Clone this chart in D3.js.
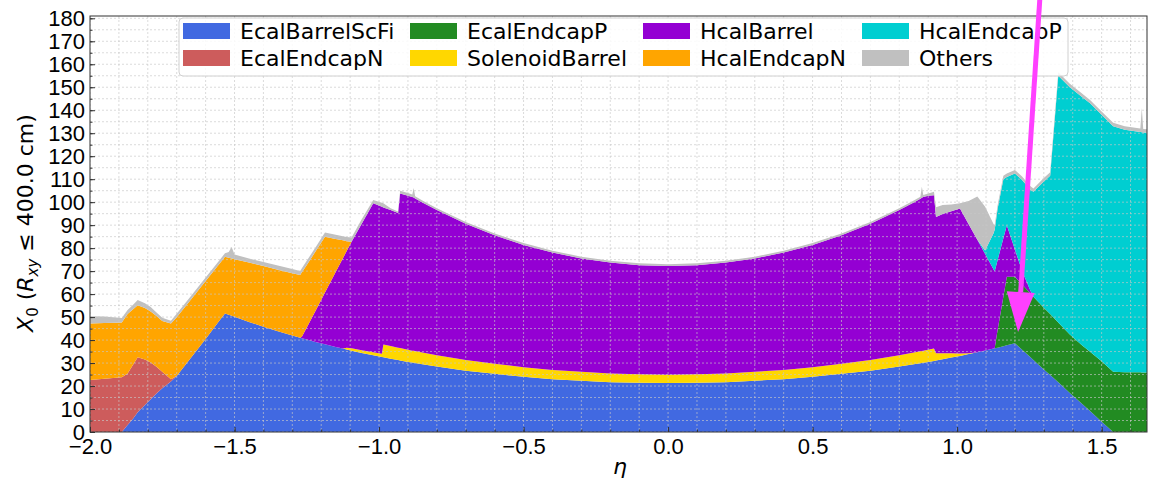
<!DOCTYPE html>
<html>
<head>
<meta charset="utf-8">
<title>X0 vs eta</title>
<script src="https://d3js.org/d3.v7.min.js"></script>
<style>
  body { margin: 0; background: #fff; }
  svg { font-family: "DejaVu Sans", sans-serif; }
  .axis text { font-size: 22px; fill: #000; }
  .axis path, .axis line { stroke: #333; }
</style>
</head>
<body>
<script>
// eta grid shared by all series
const eta = [-2.00, -1.95, -1.91, -1.89, -1.87, -1.85, -1.835, -1.81, -1.79, -1.77,
  -1.75, -1.72, -1.70, -1.65, -1.60, -1.55, -1.533, -1.52, -1.51, -1.50,
  -1.45, -1.40, -1.35, -1.30, -1.273, -1.267, -1.25, -1.22, -1.187, -1.15,
  -1.125, -1.112, -1.095, -1.06, -1.02, -0.99, -0.985, -0.96, -0.934, -0.927,
  -0.90, -0.885, -0.88, -0.875, -0.85, -0.80, -0.70, -0.60, -0.50, -0.40,
  -0.30, -0.20, -0.10, 0.00, 0.10, 0.20, 0.30, 0.40, 0.50, 0.60,
  0.70, 0.80, 0.85, 0.873, 0.878, 0.883, 0.90, 0.92, 0.927, 0.95,
  0.98, 1.01, 1.04, 1.07, 1.097, 1.126, 1.13, 1.14, 1.16, 1.172,
  1.20, 1.224, 1.253, 1.264, 1.30, 1.322, 1.35, 1.39, 1.43, 1.46,
  1.50, 1.54, 1.58, 1.634, 1.639, 1.644, 1.70];

const EcalBarrelScFi = [0, 0, 0, 0, 3.0, 6.0, 8.6, 11.8, 14.3, 16.8,
  19.0, 22.0, 24.4, 32.4, 40.5, 48.8, 51.6, 51.0, 50.6, 50.1,
  47.9, 45.8, 43.8, 42.0, 41.0, 40.8, 40.2, 39.2, 38.2, 37.0,
  36.3, 35.9, 35.4, 34.4, 33.4, 32.6, 32.5, 31.9, 31.3, 31.1,
  30.5, 30.2, 30.1, 30.0, 29.5, 28.5, 26.7, 25.3, 24.0, 23.0,
  22.3, 21.7, 21.4, 21.3, 21.4, 21.7, 22.3, 23.0, 24.0, 25.3,
  26.7, 28.5, 29.5, 29.9, 30.0, 30.1, 30.5, 30.9, 31.1, 31.7,
  32.4, 33.1, 33.9, 34.7, 35.5, 36.3, 36.4, 36.7, 37.3, 37.7,
  38.6, 35.9, 32.6, 31.3, 27.2, 24.8, 21.6, 17.0, 12.5, 9.1,
  4.5, 0, 0, 0, 0, 0, 0];

const EcalEndcapN = [22.6, 23.2, 23.6, 23.8, 22.5, 23.5, 23.9, 19.7, 15.9, 11.6,
  7.2, 1.0, 0, 0, 0, 0, 0, 0, 0, 0,
  0, 0, 0, 0, 0, 0, 0, 0, 0, 0,
  0, 0, 0, 0, 0, 0, 0, 0, 0, 0,
  0, 0, 0, 0, 0, 0, 0, 0, 0, 0,
  0, 0, 0, 0, 0, 0, 0, 0, 0, 0,
  0, 0, 0, 0, 0, 0, 0, 0, 0, 0,
  0, 0, 0, 0, 0, 0, 0, 0, 0, 0,
  0, 0, 0, 0, 0, 0, 0, 0, 0, 0,
  0, 0, 0, 0, 0, 0, 0];

const EcalEndcapP = [0, 0, 0, 0, 0, 0, 0, 0, 0, 0,
  0, 0, 0, 0, 0, 0, 0, 0, 0, 0,
  0, 0, 0, 0, 0, 0, 0, 0, 0, 0,
  0, 0, 0, 0, 0, 0, 0, 0, 0, 0,
  0, 0, 0, 0, 0, 0, 0, 0, 0, 0,
  0, 0, 0, 0, 0, 0, 0, 0, 0, 0,
  0, 0, 0, 0, 0, 0, 0, 0, 0, 0,
  0, 0, 0, 0, 0, 0, 0, 7.6, 21.5, 29.8,
  28.9, 28.4, 27.8, 27.5, 26.9, 26.5, 26.0, 25.4, 25.5, 25.8,
  26.3, 26.2, 26.0, 26.0, 25.9, 25.9, 25.8];

const SolenoidBarrel = [0, 0, 0, 0, 0, 0, 0, 0, 0, 0,
  0, 0, 0, 0, 0, 0, 0, 0, 0, 0,
  0, 0, 0, 0, 0, 0, 0, 0, 0, 0,
  0, 0.8, 1.0, 1.2, 1.3, 1.5, 5.6, 5.5, 5.4, 5.4,
  5.3, 5.2, 5.2, 5.2, 5.1, 4.9, 4.6, 4.4, 4.2, 4.0,
  3.9, 3.8, 3.7, 3.6, 3.7, 3.8, 3.9, 4.0, 4.2, 4.4,
  4.6, 4.9, 5.1, 5.2, 5.2, 5.2, 5.3, 5.4, 3.2, 2.6,
  1.9, 1.1, 0.4, 0, 0, 0, 0, 0, 0, 0,
  0, 0, 0, 0, 0, 0, 0, 0, 0, 0,
  0, 0, 0, 0, 0, 0, 0];

const HcalBarrel = [0, 0, 0, 0, 0, 0, 0, 0, 0, 0,
  0, 0, 0, 0, 0, 0, 0, 0, 0, 0,
  0, 0, 0, 0, 0, 0.6, 5.3, 13.5, 22.5, 32.6,
  39.3, 42.0, 46.4, 55.0, 64.8, 63.9, 59.6, 59.2, 58.6, 67.3,
  67.0, 66.9, 66.7, 66.4, 65.3, 63.2, 59.3, 55.9, 53.2, 51.1,
  49.3, 48.2, 47.5, 47.3, 47.5, 48.2, 49.3, 51.1, 53.2, 55.9,
  59.3, 63.2, 65.3, 66.4, 66.7, 66.9, 67.0, 66.7, 59.3, 60.5,
  61.7, 63.0, 56.1, 48.9, 41.9, 34.5, 33.5, 30.4, 25.5, 22.5,
  11.9, 6.1, 1.3, 0, 0, 0, 0, 0, 0, 0,
  0, 0, 0, 0, 0, 0, 0];

const HcalEndcapN = [24.6, 24.2, 23.9, 23.8, 25.8, 24.0, 22.7, 22.5, 22.2, 22.1,
  22.1, 24.2, 25.5, 25.4, 25.2, 24.7, 24.6, 24.8, 24.9, 25.1,
  25.8, 26.4, 26.8, 27.1, 27.3, 28.1, 27.2, 25.8, 24.3, 14.4,
  7.8, 4.3, 0, 0, 0, 0, 0, 0, 0, 0,
  0, 0, 0, 0, 0, 0, 0, 0, 0, 0,
  0, 0, 0, 0, 0, 0, 0, 0, 0, 0,
  0, 0, 0, 0, 0, 0, 0, 0, 0, 0,
  0, 0, 0, 0, 0, 0, 0, 0, 0, 0,
  0, 0, 0, 0, 0, 0, 0, 0, 0, 0,
  0, 0, 0, 0, 0, 0, 0];

const HcalEndcapP = [0, 0, 0, 0, 0, 0, 0, 0, 0, 0,
  0, 0, 0, 0, 0, 0, 0, 0, 0, 0,
  0, 0, 0, 0, 0, 0, 0, 0, 0, 0,
  0, 0, 0, 0, 0, 0, 0, 0, 0, 0,
  0, 0, 0, 0, 0, 0, 0, 0, 0, 0,
  0, 0, 0, 0, 0, 0, 0, 0, 0, 0,
  0, 0, 0, 0, 0, 0, 0, 0, 0, 0,
  0, 0, 0, 0, 1.6, 15.7, 18.1, 22.3, 25.7, 21.0,
  33.1, 39.4, 43.8, 45.7, 54.9, 60.2, 107.4, 107.6, 108.0, 108.1,
  107.2, 106.8, 105.5, 104.5, 104.5, 104.4, 104.2];

const Others = [3.2, 2.8, 2.3, 2.0, 1.8, 2.0, 2.2, 2.0, 2.0, 1.5,
  1.4, 1.2, 1.5, 1.5, 1.5, 1.5, 1.6, 2.5, 5.0, 2.0,
  1.8, 1.8, 1.8, 1.8, 1.8, 1.8, 1.8, 1.8, 1.8, 1.8,
  1.8, 1.8, 1.8, 2.0, 1.4, 1.8, 1.8, 0.8, 0.6, 1.2,
  1.2, 1.0, 4.2, 1.0, 0.8, 0.8, 0.8, 0.8, 0.8, 0.8,
  0.8, 0.8, 0.8, 0.8, 0.8, 0.8, 0.8, 0.8, 0.8, 0.8,
  0.8, 0.8, 0.8, 0.9, 4.8, 0.9, 1.0, 1.5, 4.2, 4.0,
  3.0, 2.3, 10.1, 18.9, 19.0, 4.0, 2.0, 1.5, 1.5, 1.5,
  1.5, 1.5, 1.5, 1.5, 1.5, 1.5, 1.5, 1.5, 1.5, 1.5,
  1.5, 1.5, 1.5, 1.5, 10.6, 1.5, 1.5];

const names = ["EcalBarrelScFi", "EcalEndcapN", "EcalEndcapP", "SolenoidBarrel",
  "HcalBarrel", "HcalEndcapN", "HcalEndcapP", "Others"];
const values = [EcalBarrelScFi, EcalEndcapN, EcalEndcapP, SolenoidBarrel,
  HcalBarrel, HcalEndcapN, HcalEndcapP, Others];
const colors = ["#4169e1", "#cd5c5c", "#228b22", "#ffd700",
  "#9400d3", "#ffa500", "#00ced1", "#c0c0c0"];

const xTicks = [-2.0, -1.5, -1.0, -0.5, 0.0, 0.5, 1.0, 1.5];
const yTicks = [0, 10, 20, 30, 40, 50, 60, 70, 80, 90, 100, 110, 120, 130, 140, 150, 160, 170, 180];

// annotation arrow (data coords): tail above the frame, tip near eta 1.21
const arrowTail = [1.287, 190];
const arrowTip = [1.211, 43.5];

const W = 1149, H = 483;
const x = d3.scaleLinear().domain([-2.0, 1.657]).range([90, 1147]);
const y = d3.scaleLinear().domain([0, 181]).range([432, 16]);

const svg = d3.select("body").append("svg")
  .attr("width", W).attr("height", H);

svg.append("clipPath").attr("id", "plotclip")
  .append("rect").attr("x", 90).attr("y", 16).attr("width", 1057).attr("height", 416);

const rows = eta.map((e, i) => {
  const r = {eta: e};
  names.forEach((n, j) => r[n] = values[j][i]);
  return r;
});
const stacked = d3.stack().keys(names)(rows);

const area = d3.area()
  .x(d => x(d.data.eta))
  .y0(d => y(d[0]))
  .y1(d => y(d[1]));

const plot = svg.append("g").attr("clip-path", "url(#plotclip)");
plot.selectAll("path.layer").data(stacked).join("path")
  .attr("class", "layer")
  .attr("fill", (d, i) => colors[i])
  .attr("d", area);

// grid (minor every 0.1 / 5, dotted, drawn over the fills)
const grid = plot.append("g").attr("stroke", "rgba(200,200,200,0.65)")
  .attr("stroke-width", 1).attr("stroke-dasharray", "2,2");
grid.selectAll("line.gx").data(d3.range(-20, 17).map(k => k / 10)).join("line")
  .attr("x1", d => x(d)).attr("x2", d => x(d)).attr("y1", 16).attr("y2", 432);
grid.selectAll("line.gy").data(d3.range(0, 37).map(k => k * 5)).join("line")
  .attr("x1", 90).attr("x2", 1147).attr("y1", d => y(d)).attr("y2", d => y(d));

// axes with inward ticks
const xAxis = d3.axisBottom(x).tickValues(xTicks).tickFormat(d3.format(".1f"))
  .tickSizeInner(-5).tickSizeOuter(0).tickPadding(6);
const gx = svg.append("g").attr("class", "axis").attr("transform", "translate(0,432)").call(xAxis);
gx.select(".domain").remove();

const xMinor = d3.axisBottom(x).tickValues(d3.range(-20, 17).map(k => k / 10)).tickFormat("")
  .tickSizeInner(-2.5).tickSizeOuter(0);
svg.append("g").attr("class", "axis").attr("transform", "translate(0,432)").call(xMinor)
  .select(".domain").remove();

const yAxis = d3.axisLeft(y).tickValues(yTicks).tickFormat(d3.format("d"))
  .tickSizeInner(-5).tickSizeOuter(0).tickPadding(5);
const gy = svg.append("g").attr("class", "axis").attr("transform", "translate(90,0)").call(yAxis);
gy.select(".domain").remove();

const yMinor = d3.axisLeft(y).tickValues(d3.range(0, 37).map(k => k * 5)).tickFormat("")
  .tickSizeInner(-2.5).tickSizeOuter(0);
svg.append("g").attr("class", "axis").attr("transform", "translate(90,0)").call(yMinor)
  .select(".domain").remove();

// frame
svg.append("rect").attr("x", 90).attr("y", 16).attr("width", 1057).attr("height", 416)
  .attr("fill", "none").attr("stroke", "#333").attr("stroke-width", 1);

// axis labels
const yl = svg.append("text").attr("transform", "translate(33,223) rotate(-90)")
  .attr("text-anchor", "middle").attr("font-size", 22);
yl.append("tspan").attr("font-style", "italic").text("X");
yl.append("tspan").attr("font-size", 15).attr("dy", 5).text("0");
yl.append("tspan").attr("dy", -5).text(" (");
yl.append("tspan").attr("font-style", "italic").text("R");
yl.append("tspan").attr("font-style", "italic").attr("font-size", 15).attr("dy", 5).text("xy");
yl.append("tspan").attr("dy", -5).text(" \u2264 400.0 cm)");

svg.append("text").attr("x", 620).attr("y", 474).attr("text-anchor", "middle")
  .attr("font-size", 22).attr("font-style", "italic").text("\u03b7");

// legend
const lg = svg.append("g");
lg.append("rect").attr("x", 179).attr("y", 18).attr("width", 889).attr("height", 58)
  .attr("rx", 4).attr("fill", "rgba(255,255,255,0.85)").attr("stroke", "#d0d0d0");
const colX = [183, 410, 643, 862];
names.forEach((n, i) => {
  const cx = colX[Math.floor(i / 2)], ry = 23 + (i % 2) * 27;
  lg.append("rect").attr("x", cx).attr("y", ry).attr("width", 47).attr("height", 16)
    .attr("fill", colors[i]);
  lg.append("text").attr("x", cx + 57).attr("y", ry + 16).attr("font-size", 22)
    .attr("fill", "#000").text(n);
});

// magenta annotation arrow
const tx = x(arrowTail[0]), ty = y(arrowTail[1]);
const hx = x(arrowTip[0]), hy = y(arrowTip[1]);
const ang = Math.atan2(hy - ty, hx - tx);
const headLen = 40, headW = 14;
const bx = hx - headLen * Math.cos(ang), by = hy - headLen * Math.sin(ang);
const px = -Math.sin(ang), py = Math.cos(ang);
svg.append("line").attr("x1", tx).attr("y1", ty).attr("x2", bx).attr("y2", by)
  .attr("stroke", "#ff40ff").attr("stroke-width", 5);
svg.append("path")
  .attr("d", `M${hx},${hy}L${bx + px * headW},${by + py * headW}L${bx - px * headW},${by - py * headW}Z`)
  .attr("fill", "#ff40ff");
</script>
</body>
</html>
